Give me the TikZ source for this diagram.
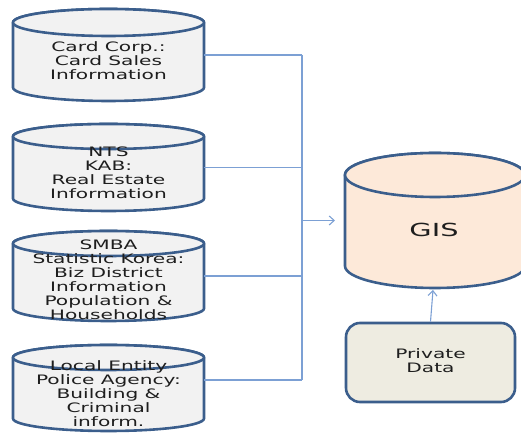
\documentclass[tikz,border=0pt]{standalone}
\usepackage{fontspec}
\setmainfont{DejaVu Sans}
\usepackage{graphicx}
\usetikzlibrary{arrows.meta,calc}
\definecolor{outl}{HTML}{3B5E8C}
\definecolor{linkc}{HTML}{7CA0D4}
\definecolor{cylgrey}{HTML}{F2F2F2}
\definecolor{gisfill}{HTML}{FDE9D9}
\definecolor{privfill}{HTML}{EEECE1}
\definecolor{txtc}{HTML}{1E1E1E}
\tikzset{
  cylbody/.style={draw=outl, line width=2.6pt, line join=round},
  anchorbox/.style={rectangle, inner sep=0pt, outer sep=0pt},
  txt/.style={inner sep=0pt, text=txtc, font=\fontsize{13}{14}\selectfont},
  link/.style={draw=linkc, line width=1.1pt},
  linkarrow/.style={link, -{Straight Barb[length=5pt,width=9pt,line width=1.1pt]}},
  privbox/.style={draw=outl, fill=privfill, line width=2.6pt, rounded corners=14pt, inner sep=0pt}
}
% name, xl, xr, top(px), bottom(px), ry, fill
\newcommand\dbcyl[7]{%
  \pgfmathsetmacro\cxl{#2}\pgfmathsetmacro\cxr{#3}%
  \pgfmathsetmacro\crx{(#3-#2)/2}\pgfmathsetmacro\ccx{(#3+#2)/2}%
  \pgfmathsetmacro\cyt{435-#4-#6}\pgfmathsetmacro\cyb{435-#5+#6}%
  \pgfmathsetmacro\cyc{435-(#4+#5)/2}\pgfmathsetmacro\chh{#5-#4}\pgfmathsetmacro\cww{#3-#2}%
  \path[cylbody, fill=#7] (\cxl,\cyt) -- (\cxl,\cyb)
     arc[start angle=180, end angle=360, x radius=\crx pt, y radius=#6pt]
     -- (\cxr,\cyt)
     arc[start angle=0, end angle=180, x radius=\crx pt, y radius=#6pt] -- cycle;
  \path[cylbody, fill=#7] (\ccx,\cyt) ellipse[x radius=\crx pt, y radius=#6pt];
  \node[anchorbox, minimum width=\cww pt, minimum height=\chh pt] (#1) at (\ccx,\cyc) {};
}
\newcommand\wtxt[2]{\scalebox{#1}[1]{\begin{tabular}{@{}c@{}}#2\end{tabular}}}
\begin{document}
\begin{tikzpicture}[x=1pt,y=1pt]
\useasboundingbox (0,0) rectangle (521,435);

\dbcyl{c1}{13}{204}{9}{101}{13.5}{cylgrey}
\dbcyl{c2}{13}{204}{124}{211}{12.5}{cylgrey}
\dbcyl{c3}{13}{204}{231}{321}{12.5}{cylgrey}
\dbcyl{c4}{13}{204}{345}{431}{12.5}{cylgrey}
\dbcyl{gis}{345}{525}{153}{288}{22}{gisfill}

\node[txt] (t1) at (108.5,{435-62.5}) {\wtxt{1.55}{Card Corp.:\\Card Sales\\Information}};
\node[txt] (t2) at (108.5,{435-174.5}) {\wtxt{1.55}{NTS\\KAB:\\Real Estate\\Information}};
\node[txt, font=\fontsize{13}{13.4}\selectfont] (t3) at (108.5,{435-281.5}) {\wtxt{1.55}{SMBA\\Statistic Korea:\\Biz District\\Information\\Population \&\\Households}};
\node[txt] (t4) at (108.5,{435-396}) {\wtxt{1.55}{Local Entity\\Police Agency:\\Building \&\\Criminal\\inform.}};
\node[txt, font=\fontsize{18}{20}\selectfont] (tg) at (434,{435-233}) {\wtxt{1.6}{GIS}};

\node[privbox, minimum width=169pt, minimum height=79pt] (p) at (430.5,{435-362.5}) {};
\node[txt] (tp) at (p.center) {\wtxt{1.55}{Private\\Data}};

\coordinate (bx) at (302,0);
\draw[link] (c1.east) -- (c1.east -| bx);
\draw[link] (c2.east) -- (c2.east -| bx);
\draw[link] (c3.east) -- (c3.east -| bx);
\coordinate (c4e) at ([yshift=8pt]c4.east);
\draw[link] (c4e) -- (c4e -| bx);
\draw[link] (c1.east -| bx) -- (c4e -| bx);
\draw[linkarrow] (gis.west -| bx) -- ([xshift=-10pt]gis.west);
\draw[linkarrow] (p.north) -- ([yshift=-2pt, xshift=-2pt]gis.south);
\end{tikzpicture}
\end{document}
